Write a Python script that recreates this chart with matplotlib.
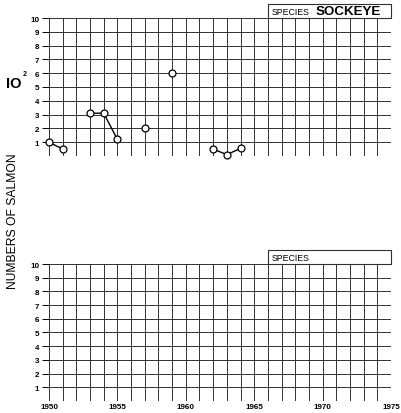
import numpy as np
import matplotlib
matplotlib.use("Agg")
import matplotlib.pyplot as plt
from matplotlib.patches import Rectangle

plt.rcParams['font.family'] = ['Liberation Sans', 'DejaVu Sans']

# Sockeye counts (hundreds of salmon); runs of consecutive years are joined
sockeye_runs = [
    ([1950, 1951], [1.0, 0.5]),
    ([1953, 1954, 1955], [3.1, 3.1, 1.2]),
    ([1957], [2.0]),
    ([1959], [6.0]),
    ([1962, 1963, 1964], [0.5, 0.1, 0.55]),
]
species_names = ["SOCKEYE", ""]
year_ticks = [1950, 1955, 1960, 1965, 1970, 1975]
count_ticks = list(range(1, 11))

fig = plt.figure(figsize=(4.02, 4.14), dpi=100)
ax_top = fig.add_axes([0.1219, 0.6208, 0.8507, 0.3333])
ax_bot = fig.add_axes([0.1219, 0.0290, 0.8507, 0.3309])

grid_color = '#303030'
for ax, name in zip([ax_top, ax_bot], species_names):
    ax.set_xlim(1950, 1975)
    ax.set_ylim(0, 10)
    for yr in range(1950, 1976):
        ax.axvline(yr, color=grid_color, lw=0.7, zorder=1)
    for v in range(0, 11):
        ax.axhline(v, color=grid_color, lw=0.7, zorder=1)
    for s in ax.spines.values():
        s.set_visible(False)
    ax.set_yticks(count_ticks)
    ax.set_yticklabels([f"{v}" for v in count_ticks], fontsize=5.8,
                       fontweight='bold')
    ax.tick_params(axis='y', length=5, width=0.7, pad=2, direction='out')
    ax.set_xticks(year_ticks)
    ax.tick_params(axis='x', length=0)
    # species label box above the grid
    ax.add_patch(Rectangle((1966, 10), 9, 1.05, fill=False, lw=0.8,
                           edgecolor=grid_color, clip_on=False))
    ax.text(1966.3, 10.5, "SPECIES", fontsize=6.3, va='center',
            ha='left', clip_on=False)
    if name:
        ax.text(1969.5, 10.52, name, fontsize=9.6, fontweight='bold',
                va='center', ha='left', clip_on=False)

ax_top.set_xticklabels([])
ax_bot.set_xticklabels([str(y) for y in year_ticks], fontsize=5.8,
                       fontweight='bold')
ax_bot.tick_params(axis='x', pad=1.5)

for xs, ys in sockeye_runs:
    ax_top.plot(xs, ys, color='black', lw=1.0, marker='o', markersize=5,
                markerfacecolor='white', markeredgecolor='black',
                markeredgewidth=0.9, zorder=3, clip_on=False)

# scale marker and axis title
fig.text(0.014, 0.797, "IO", fontsize=10.5, fontweight='heavy', ha='left',
         va='center')
fig.text(0.056, 0.821, "2", fontsize=5, fontweight='bold', ha='left',
         va='center')
fig.text(0.032, 0.465, "NUMBERS OF SALMON", rotation=90, fontsize=8.7,
         ha='center', va='center')

fig.savefig("out.png", dpi=100)
